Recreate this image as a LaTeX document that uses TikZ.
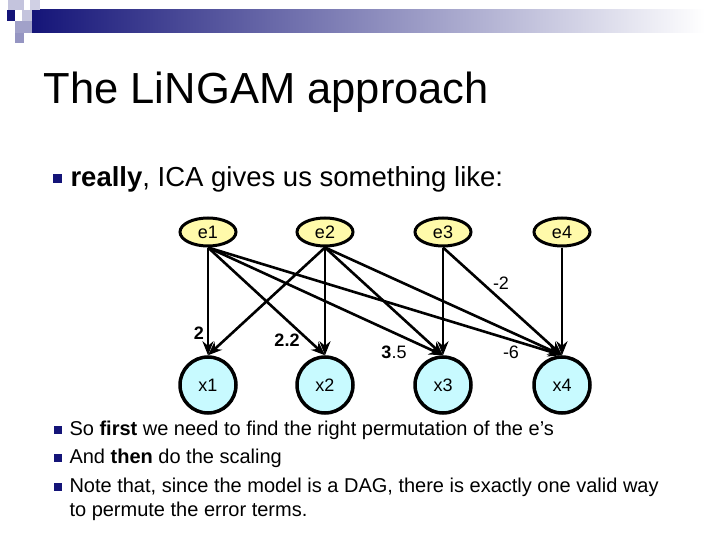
\documentclass[tikz,border=0pt]{standalone}
\usepackage{fontspec}
\setmainfont{Liberation Sans}
\usetikzlibrary{shapes.geometric,arrows.meta}
\definecolor{navy}{RGB}{20,20,120}
\definecolor{ey}{RGB}{255,250,170}
\definecolor{xc}{RGB}{200,250,255}
\begin{document}
\begin{tikzpicture}[x=1pt,y=-1pt,
 enode/.style={ellipse,draw,line width=3pt,fill=ey,minimum width=56pt,minimum height=28pt,inner sep=0pt,font=\fontsize{18}{18}\selectfont},
 xnode/.style={circle,draw,line width=3.5pt,fill=xc,minimum size=56pt,inner sep=0pt,font=\fontsize{18}{18}\selectfont},
 edge/.style={line width=2.6pt,-{Stealth[length=14pt,width=11pt]}},
 lab/.style={font=\fontsize{18}{18}\selectfont},
 bul/.style={fill=navy,minimum size=9pt,inner sep=0pt}]
\useasboundingbox (0,0) rectangle (720,540);
% header
\shade[left color=navy,right color=white] (30,10) rectangle (705,33);
\fill[navy!25] (8,0) rectangle (24,10);
\fill[navy!20] (30,0) rectangle (40,10);
\fill[navy] (7,10) rectangle (15,21);
\fill[navy!25] (22,10) rectangle (32,21);
\fill[navy!40] (15,21) rectangle (32,33);
\fill[navy!45] (15,33) rectangle (24,43);
% title
\node[anchor=west,font=\fontsize{43.5}{43.5}\selectfont] (title) at (40,92) {The Li\kern0.5ptNGAM approach};
\node[bul] (b0) at (57,179) {};
\node[anchor=west,font=\fontsize{27.5}{27.5}\selectfont] (t0) at (67,179) {\textbf{really}, ICA gives us something like:};
% nodes
\node[enode] (e1) at (208,232) {e1};
\node[enode] (e2) at (325,232) {e2};
\node[enode] (e3) at (443,232) {e3};
\node[enode] (e4) at (562,232) {e4};
\node[xnode] (x1) at (208,385) {x1};
\node[xnode] (x2) at (325,385) {x2};
\node[xnode] (x3) at (443,385) {x3};
\node[xnode] (x4) at (562,385) {x4};
\foreach \a/\b in {e1/x1,e1/x2,e1/x3,e1/x4,e2/x1,e2/x2,e2/x3,e2/x4,e3/x3,e3/x4,e4/x4}
  \draw[edge] (\a.south) -- (\b.north);
\node[lab,font=\bfseries\fontsize{18}{18}\selectfont] (l1) at (199,333) {2};
\node[lab,font=\bfseries\fontsize{18}{18}\selectfont] (l2) at (287,340) {2.2};
\node[lab] (l3) at (394,352) {\textbf{3}.5};
\node[lab] (l4) at (511,352) {-6};
\node[lab] (l5) at (501,283) {-2};
% bullets
\node[bul,minimum size=8pt] (b1) at (58,430) {};
\node[bul,minimum size=8pt] (b2) at (58,458) {};
\node[bul,minimum size=8pt] (b3) at (58,487) {};
\begin{scope}[every node/.style={anchor=west,font=\fontsize{20}{24}\selectfont}]
\node (t1) at (66,430) {So \textbf{first} we need to find the right permutation of the e’s};
\node (t2) at (66,458) {And \textbf{then} do the scaling};
\node[anchor=north west,align=left] (t3) at (66,474) {Note that, since the model is a DAG, there is exactly one valid way\\to permute the error terms.};
\end{scope}
\end{tikzpicture}
\end{document}
